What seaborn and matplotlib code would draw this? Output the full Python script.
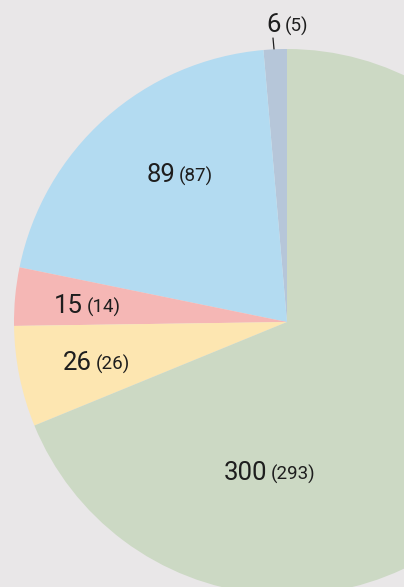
import matplotlib
matplotlib.use("Agg")
import matplotlib.pyplot as plt
import seaborn as sns

# Data
categories = ["Other", "Blue", "Pink", "Yellow", "Green"]
values = [6, 89, 15, 26, 300]
prev_values = [5, 87, 14, 26, 293]
colors = ["#b6c6d9", "#b3dbf1", "#f5b7b5", "#fde6b1", "#ccd9c4"]

sns.set_theme(style="white")
plt.rcParams['font.family'] = ['Roboto', 'DejaVu Sans']

W, H = 404, 587
fig = plt.figure(figsize=(W / 100, H / 100), dpi=100)
bg = "#e9e7e8"
fig.patch.set_facecolor(bg)
ax = fig.add_axes([0, 0, 1, 1])
ax.set_facecolor(bg)

cx, cy, R = 287, 322, 273
ax.pie(values, colors=colors, startangle=90, counterclock=True,
       center=(cx, H - cy), radius=R, frame=True,
       wedgeprops=dict(linewidth=0, antialiased=True))
ax.set_xlim(0, W)
ax.set_ylim(0, H)
ax.set_aspect("equal")
ax.axis("off")

# label placement (pixel coords): split x, baseline y
label_pos = [(282, 32), (176, 182), (84, 313), (93, 370), (268, 480)]
tc = "#1e1e1e"
for v, pv, (sx, by) in zip(values, prev_values, label_pos):
    ax.text(sx - 1, H - by, f"{v}", ha="right", va="baseline",
            fontsize=18.5, color=tc, fontweight="normal")
    ax.text(sx + 3, H - by, f"({pv})", ha="left", va="baseline",
            fontsize=13.5, color=tc, fontweight="normal")

# leader line for the small slice
ax.plot([273, 274], [H - 38, H - 49], color=tc, lw=0.9)

fig.savefig("out.png", dpi=100, facecolor=bg)
